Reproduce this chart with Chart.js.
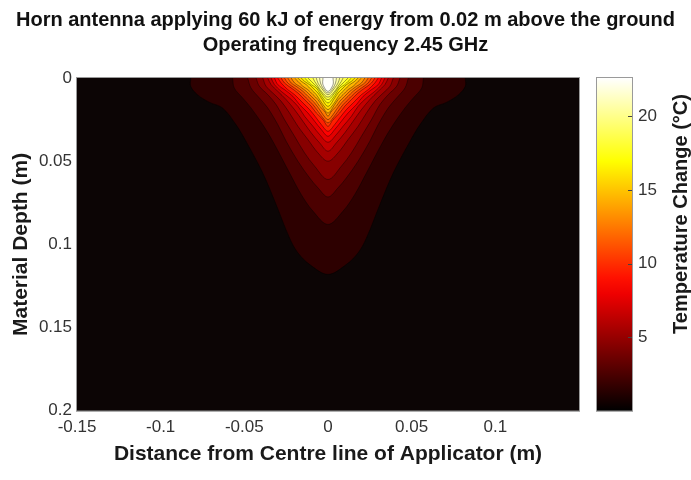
<!DOCTYPE html>
<html>
<head>
<meta charset="utf-8">
<script src="https://cdn.jsdelivr.net/npm/chart.js@4.4.1/dist/chart.umd.min.js"></script>
<style>
  html, body { margin: 0; padding: 0; background: #fff; }
</style>
</head>
<body>
<canvas id="heatChart" width="691" height="480"></canvas>
<script>
/* =========================
   DATA
========================= */
const titleLines = [
  "Horn antenna applying 60 kJ of energy from 0.02 m above the ground",
  "Operating frequency 2.45 GHz"
];
const xTicks = [-0.15, -0.1, -0.05, 0, 0.05, 0.1];
const depthTicks = [0, 0.05, 0.1, 0.15, 0.2];
const colorbarTicks = [5, 10, 15, 20];
const colorbarMax = 22.6;

// temperature change of each contour line (degC)
const contourLevels = [1, 2, 3, 4, 5, 6, 7, 8, 9, 10, 11, 12, 13, 14, 15, 16, 17, 18, 19, 20, 21, 22];

// each contour: depths (m) from the surface down to its tip ...
const contourDepths = [
  [0, 0.005, 0.010, 0.0145, 0.018, 0.028, 0.038, 0.057, 0.076, 0.096, 0.105, 0.112, 0.118],
  [0, 0.006, 0.012, 0.018, 0.028, 0.038, 0.057, 0.070, 0.080, 0.088],
  [0, 0.006, 0.012, 0.018, 0.028, 0.038, 0.050, 0.060, 0.066, 0.0715],
  [0, 0.005, 0.010, 0.016, 0.025, 0.035, 0.045, 0.053, 0.061],
  [0, 0.005, 0.009, 0.014, 0.021, 0.029, 0.037, 0.045, 0.050],
  [0, 0.004, 0.008, 0.013, 0.019, 0.026, 0.033, 0.039, 0.044],
  [0, 0.004, 0.008, 0.012, 0.017, 0.023, 0.029, 0.034, 0.0386],
  [0, 0.004, 0.007, 0.011, 0.016, 0.021, 0.026, 0.031, 0.035],
  [0, 0.003, 0.007, 0.010, 0.015, 0.019, 0.024, 0.028, 0.032],
  [0, 0.003, 0.006, 0.009, 0.013, 0.017, 0.021, 0.025, 0.029],
  [0, 0.003, 0.006, 0.009, 0.012, 0.016, 0.020, 0.024, 0.027],
  [0, 0.003, 0.005, 0.008, 0.011, 0.015, 0.019, 0.022, 0.025],
  [0, 0.003, 0.005, 0.008, 0.011, 0.014, 0.017, 0.020, 0.023],
  [0, 0.002, 0.005, 0.007, 0.010, 0.013, 0.016, 0.021],
  [0, 0.002, 0.004, 0.007, 0.010, 0.013, 0.016, 0.019],
  [0, 0.002, 0.004, 0.006, 0.009, 0.012, 0.017],
  [0, 0.002, 0.004, 0.006, 0.009, 0.012, 0.015],
  [0, 0.002, 0.004, 0.006, 0.009, 0.013],
  [0, 0.002, 0.005, 0.008, 0.0115],
  [0, 0.003, 0.006, 0.010],
  [0, 0.003, 0.006, 0.009],
  [0, 0.004, 0.008]
];
// ... and its half width (m) either side of the centre line at those depths
const contourHalfWidths = [
  [0.082, 0.082, 0.078, 0.071, 0.063, 0.055, 0.049, 0.039, 0.031, 0.023, 0.018, 0.011, 0],
  [0.057, 0.056, 0.051, 0.046, 0.039, 0.033, 0.023, 0.016, 0.009, 0],
  [0.048, 0.046, 0.041, 0.036, 0.030, 0.025, 0.018, 0.011, 0.006, 0],
  [0.043, 0.041, 0.036, 0.031, 0.026, 0.020, 0.014, 0.008, 0],
  [0.039, 0.037, 0.033, 0.028, 0.023, 0.018, 0.012, 0.006, 0],
  [0.036, 0.034, 0.030, 0.025, 0.020, 0.015, 0.010, 0.005, 0],
  [0.034, 0.032, 0.028, 0.023, 0.018, 0.014, 0.009, 0.005, 0],
  [0.032, 0.030, 0.026, 0.021, 0.017, 0.012, 0.008, 0.004, 0],
  [0.030, 0.028, 0.024, 0.020, 0.015, 0.011, 0.007, 0.004, 0],
  [0.028, 0.026, 0.022, 0.018, 0.014, 0.010, 0.007, 0.003, 0],
  [0.026, 0.024, 0.020, 0.016, 0.013, 0.009, 0.006, 0.003, 0],
  [0.024, 0.022, 0.019, 0.015, 0.012, 0.008, 0.005, 0.003, 0],
  [0.022, 0.020, 0.017, 0.013, 0.010, 0.007, 0.005, 0.002, 0],
  [0.020, 0.018, 0.015, 0.012, 0.009, 0.006, 0.004, 0],
  [0.018, 0.016, 0.013, 0.010, 0.007, 0.005, 0.003, 0],
  [0.016, 0.014, 0.011, 0.009, 0.006, 0.004, 0],
  [0.014, 0.012, 0.010, 0.007, 0.005, 0.003, 0],
  [0.012, 0.010, 0.008, 0.006, 0.004, 0],
  [0.009, 0.008, 0.006, 0.004, 0],
  [0.007, 0.006, 0.004, 0],
  [0.005, 0.0045, 0.003, 0],
  [0.003, 0.003, 0]
];

/* =========================
   COLOURS & FONTS
========================= */
const FONT = "'Liberation Sans', Arial, Helvetica, sans-serif";

// MATLAB "hot" colormap
function hotColor(t) {
  t = Math.max(0, Math.min(1, t));
  const r = Math.min(1, t / 0.375);
  const g = Math.min(1, Math.max(0, (t - 0.375) / 0.375));
  const b = Math.min(1, Math.max(0, (t - 0.75) / 0.25));
  return `rgb(${Math.round(r * 255)},${Math.round(g * 255)},${Math.round(b * 255)})`;
}

/* =========================
   CONTOUR DATASETS
========================= */
const datasets = contourLevels.map((level, i) => {
  const d = contourDepths[i];
  const w = contourHalfWidths[i];
  // left side surface -> tip, then right side tip -> surface
  const leftSide = d.map((dep, k) => ({ x: -w[k], y: dep }));
  const rightSide = d.slice(0, -1).map((dep, k) => ({ x: w[k], y: dep })).reverse();
  return {
    label: level + " °C",
    data: leftSide.concat(rightSide),
    showLine: true,
    fill: "shape",
    tension: 0.35,
    backgroundColor: hotColor((level + 0.5) / colorbarMax),
    borderColor: "rgba(0,0,0,0.5)",
    borderWidth: 0.8,
    pointRadius: 0,
    pointHitRadius: 0,
    order: contourLevels.length - i
  };
});

/* =========================
   PLUGINS
========================= */
const plotFrame = {
  id: "plotFrame",
  beforeDatasetsDraw(chart) {
    const { ctx, chartArea: a } = chart;
    ctx.save();
    ctx.fillStyle = "#0c0505";
    ctx.fillRect(a.left, a.top, a.right - a.left, a.bottom - a.top);
    ctx.restore();
  },
  afterDatasetsDraw(chart) {
    const { ctx, chartArea: a } = chart;
    ctx.save();
    ctx.strokeStyle = "#9a9a9a";
    ctx.lineWidth = 1;
    ctx.strokeRect(a.left - 0.5, a.top - 0.5, a.right - a.left + 1, a.bottom - a.top + 1);
    ctx.restore();
  }
};

const colorbar = {
  id: "colorbar",
  afterDraw(chart) {
    const { ctx } = chart;
    const cb = chart.scales.cb;
    const x0 = cb.left + 18, x1 = cb.left + 53;
    const yTop = cb.getPixelForValue(colorbarMax);
    const yBot = cb.getPixelForValue(0);
    const grad = ctx.createLinearGradient(0, yBot, 0, yTop);
    for (let s = 0; s <= 20; s++) grad.addColorStop(s / 20, hotColor(s / 20));
    ctx.save();
    ctx.fillStyle = grad;
    ctx.fillRect(x0, yTop, x1 - x0, yBot - yTop);
    ctx.strokeStyle = "#9a9a9a";
    ctx.lineWidth = 1;
    ctx.strokeRect(x0 - 0.5, yTop - 0.5, x1 - x0 + 1, yBot - yTop + 1);
    // small inward tick marks
    ctx.strokeStyle = "#444";
    colorbarTicks.forEach(v => {
      const y = Math.round(cb.getPixelForValue(v)) + 0.5;
      ctx.beginPath();
      ctx.moveTo(x1 - 4, y);
      ctx.lineTo(x1, y);
      ctx.stroke();
    });
    // colorbar label, reading bottom to top
    ctx.fillStyle = "#1a1a1a";
    ctx.font = "bold 20px " + FONT;
    ctx.textAlign = "center";
    ctx.textBaseline = "middle";
    ctx.translate(cb.right - 10, 214);
    ctx.rotate(-Math.PI / 2);
    ctx.fillText("Temperature Change (°C)", 0, 0);
    ctx.restore();
  }
};

/* =========================
   CHART
========================= */
new Chart(document.getElementById("heatChart"), {
  type: "scatter",
  data: { datasets },
  plugins: [plotFrame, colorbar],
  options: {
    responsive: false,
    animation: false,
    events: [],
    layout: { padding: 0 },
    plugins: {
      legend: { display: false },
      tooltip: { enabled: false },
      title: {
        display: true,
        text: titleLines,
        color: "#111",
        font: { family: FONT, size: 20, weight: "bold", lineHeight: 1.25 },
        padding: { top: 7.5, bottom: 20.5 }
      }
    },
    scales: {
      x: {
        type: "linear",
        min: -0.15,
        max: 0.15,
        afterBuildTicks: s => { s.ticks = xTicks.map(v => ({ value: v })); },
        afterFit: s => { s.height = 58; },
        grid: { display: false, drawTicks: false },
        border: { display: false },
        ticks: {
          autoSkip: false,
          maxRotation: 0,
          padding: 6,
          color: "#333",
          font: { family: FONT, size: 17 },
          callback: v => String(v)
        },
        title: {
          display: true,
          text: "Distance from Centre line of Applicator (m)",
          color: "#1a1a1a",
          font: { family: FONT, size: 21, weight: "bold" },
          padding: { top: 0, bottom: 2 }
        }
      },
      y: {
        type: "linear",
        reverse: true,
        min: 0,
        max: 0.2,
        afterBuildTicks: s => { s.ticks = depthTicks.map(v => ({ value: v })); },
        afterFit: s => { s.width = 77; },
        grid: { display: false, drawTicks: false },
        border: { display: false },
        ticks: {
          autoSkip: false,
          padding: 5,
          color: "#333",
          font: { family: FONT, size: 17 },
          callback: v => String(v)
        },
        title: {
          display: true,
          text: "Material Depth (m)",
          color: "#1a1a1a",
          font: { family: FONT, size: 21, weight: "bold" },
          padding: { top: 9, bottom: 0 }
        }
      },
      cb: {
        type: "linear",
        position: "right",
        min: 0,
        max: colorbarMax,
        afterBuildTicks: s => { s.ticks = colorbarTicks.map(v => ({ value: v })); },
        afterFit: s => { s.width = 112; },
        grid: { display: false, drawTicks: false },
        border: { display: false },
        ticks: {
          autoSkip: false,
          padding: 59,
          color: "#333",
          font: { family: FONT, size: 17 },
          callback: v => String(v)
        }
      }
    }
  }
});
</script>
</body>
</html>
